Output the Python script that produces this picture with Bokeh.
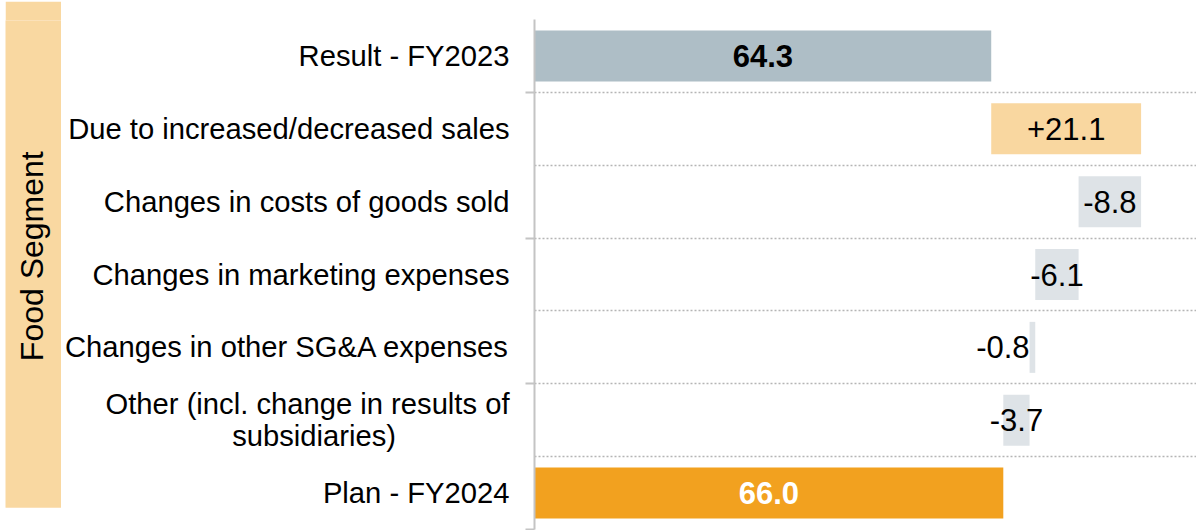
import math
from bokeh.plotting import figure
from bokeh.models import FixedTicker, Range1d, ColumnDataSource
from bokeh.layouts import row
from bokeh.embed import file_html
from bokeh.resources import INLINE
from bokeh.core.properties import value

# ---------------- data ----------------
segment = "Food Segment"
categories = [
    "Result - FY2023",
    "Due to increased/decreased sales",
    "Changes in costs of goods sold",
    "Changes in marketing expenses",
    "Changes in other SG&A expenses",
    "Other (incl. change in results of\nsubsidiaries)" + "\u00a0" * 14,
    "Plan - FY2024",
]
values = [64.3, 21.1, -8.8, -6.1, -0.8, -3.7, 66.0]
kinds = ["total", "delta", "delta", "delta", "delta", "delta", "plan"]
value_labels = ["64.3", "+21.1", "-8.8", "-6.1", "-0.8", "-3.7", "66.0"]

# ---------------- styling ----------------
FONT = "Liberation Sans"
C_RESULT = "#AEBEC6"
C_PLAN = "#F2A11F"
C_UP = "#F9D7A0"
C_DOWN = "#DEE3E7"
C_BAND = "#F9D8A1"
C_AXIS = "#C4C4C4"
C_GRID = "#B5B5B5"

# ---------------- waterfall geometry ----------------
n = len(categories)
ys = [i + 0.5 for i in range(n)]
lefts, rights, colors = [], [], []
lx, aligns, styles, tcolors = [], [], [], []
running = 0.0
for v, k in zip(values, kinds):
    if k in ("total", "plan"):
        l, r = 0.0, v
        running = v
        colors.append(C_RESULT if k == "total" else C_PLAN)
        styles.append("bold")
        tcolors.append("white" if k == "plan" else "black")
    else:
        l, r = running, running + v
        running += v
        colors.append(C_UP if v > 0 else C_DOWN)
        styles.append("normal")
        tcolors.append("black")
    lo, hi = min(l, r), max(l, r)
    lefts.append(lo)
    rights.append(hi)
    if k == "delta" and abs(v) < 1.5:
        lx.append(lo)
        aligns.append("right")
    else:
        lx.append((lo + hi) / 2)
        aligns.append("center")

src = ColumnDataSource(dict(y=ys, left=lefts, right=rights, color=colors,
                            lx=lx, label=value_labels, align=aligns,
                            style=styles, tcolor=tcolors))

# ---------------- main figure ----------------
p = figure(width=1135, height=530,
           x_range=Range1d(0, 93.2), y_range=Range1d(n, 0),
           toolbar_location=None, output_backend="svg",
           x_axis_location=None,
           min_border_left=472, min_border_right=0,
           min_border_top=19, min_border_bottom=1)
p.outline_line_color = None
p.background_fill_color = "white"
p.border_fill_color = "white"

p.hbar(y="y", left="left", right="right", height=0.7, fill_color="color",
       line_color=None, source=src)

p.text(x="lx", y="y", text="label", source=src,
       text_font=value(FONT), text_font_size=value("31px"),
       text_font_style=dict(field="style"), text_color=dict(field="tcolor"),
       text_align=dict(field="align"), text_baseline="middle")

# grid at category boundaries
p.xgrid.visible = False
p.ygrid.ticker = FixedTicker(ticks=list(range(n + 1)))
p.ygrid.grid_line_color = C_GRID
p.ygrid.grid_line_dash = "2 2"
p.ygrid.grid_line_width = 1.5

# y axis: labels at centres, small ticks at every other boundary
ax = p.yaxis[0]
ax.ticker = FixedTicker(ticks=ys, minor_ticks=[1, 3, 5, 7])
ax.major_label_overrides = {y: c for y, c in zip(ys, categories)}
ax.major_label_text_font = FONT
ax.major_label_text_font_size = "29.2px"
ax.major_label_text_color = "black"
ax.major_label_text_line_height = 1.0
ax.major_label_standoff = 16
ax.major_tick_out = 0
ax.major_tick_in = 0
ax.major_tick_line_color = None
ax.minor_tick_out = 9
ax.minor_tick_in = 0
ax.minor_tick_line_color = C_AXIS
ax.minor_tick_line_width = 2
ax.axis_line_color = C_AXIS
ax.axis_line_width = 2

# ---------------- segment band ----------------
band = figure(width=56, height=507, x_range=Range1d(0, 1), y_range=Range1d(0, 1),
              toolbar_location=None, output_backend="svg",
              x_axis_type=None, y_axis_type=None,
              min_border_left=0, min_border_right=0,
              min_border_top=0, min_border_bottom=0)
band.margin = (1, 0, 0, 5)
band.background_fill_color = C_BAND
band.border_fill_color = C_BAND
band.outline_line_color = None
band.text(x=[0.47], y=[0.516], text=[segment], angle=math.pi / 2,
          text_font=value(FONT), text_font_size=value("32px"),
          text_color="black", text_align="center", text_baseline="middle")

layout = row(band, p, spacing=0)
open("out.html", "w").write(file_html(layout, INLINE))
